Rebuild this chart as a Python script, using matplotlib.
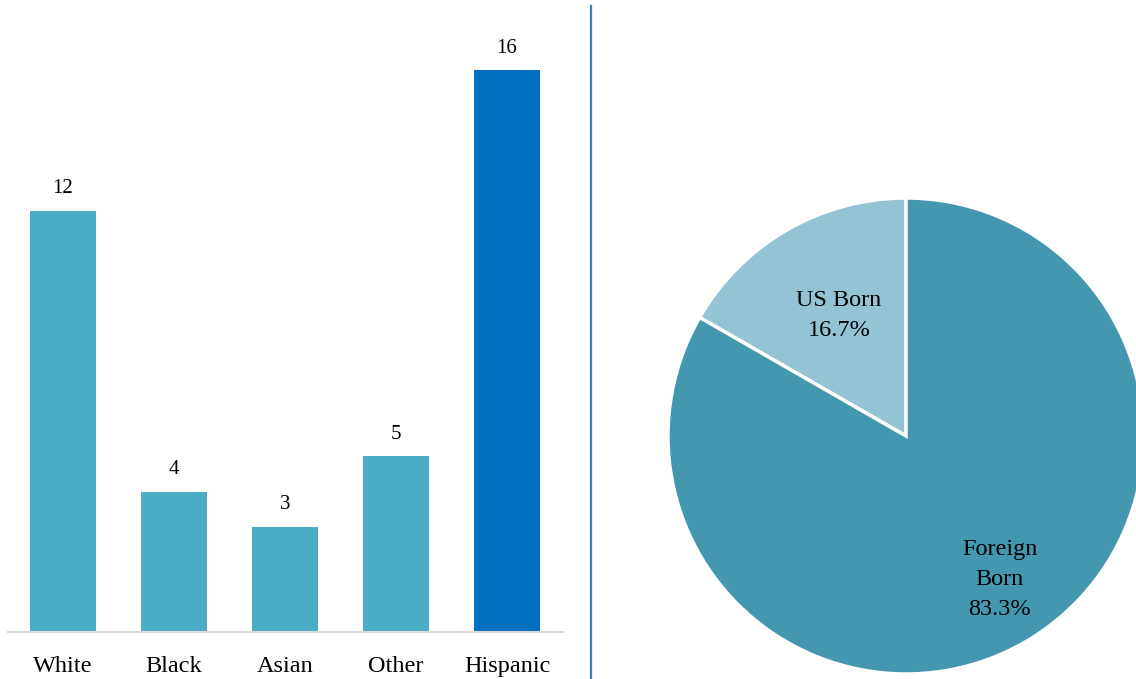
import numpy as np
import matplotlib
matplotlib.use("Agg")
import matplotlib.pyplot as plt
from matplotlib.lines import Line2D

# data
races = ["White", "Black", "Asian", "Other", "Hispanic"]
counts = [12, 4, 3, 5, 16]
bar_colors = ["#4bacc6", "#4bacc6", "#4bacc6", "#4bacc6", "#0070c0"]

birth_labels = ["US Born", "Foreign\nBorn"]
birth_share = [16.7, 83.3]
pie_colors = ["#93c3d5", "#4398b0"]

plt.rcParams["font.family"] = ["Liberation Serif", "DejaVu Serif"]

W, H = 1136, 679
fig = plt.figure(figsize=(W / 100, H / 100), dpi=100)

# bar chart
ax = fig.add_axes([7.5 / W, (H - 632) / H, 555 / W, 632 / H])
x = np.arange(len(races))
bars = ax.bar(x, counts, width=0.595, color=bar_colors)
for b, v in zip(bars, counts):
    ax.text(b.get_x() + b.get_width() / 2, v + 0.35, str(v),
            ha="center", va="bottom", fontsize=15)
ax.set_xlim(-0.5, len(races) - 0.5)
ax.set_ylim(0, 18)
ax.set_xticks(x)
ax.set_xticklabels(races, fontsize=17.5)
ax.tick_params(axis="x", length=0, pad=17)
ax.set_yticks([])
for s in ["top", "right", "left"]:
    ax.spines[s].set_visible(False)
ax.spines["bottom"].set_color("#d9d9d9")
ax.spines["bottom"].set_linewidth(1.5)

# divider
fig.add_artist(Line2D([591 / W, 591 / W], [0, 1 - 6 / H],
                      transform=fig.transFigure, color="#3f7cc0", lw=1.6))

# pie chart
cx, cy, r = 906, 436, 238
pax = fig.add_axes([(cx - r) / W, (H - cy - r) / H, 2 * r / W, 2 * r / H])
wedges, _ = pax.pie(birth_share, colors=pie_colors, startangle=90,
                    counterclock=True,
                    wedgeprops=dict(edgecolor="white", linewidth=2.5))
pax.set_aspect("equal")
pax.set_xlim(-1, 1)
pax.set_ylim(-1, 1)
label_r = [0.58, 0.72]
label_shift = [-1, 3]  # degrees off the wedge middle
for w, lab, val, lr, sh in zip(wedges, birth_labels, birth_share, label_r, label_shift):
    ang = np.deg2rad((w.theta1 + w.theta2) / 2 + sh)
    pax.text(lr * np.cos(ang), lr * np.sin(ang), f"{lab}\n{val:.1f}%",
             ha="center", va="center", fontsize=17.5, linespacing=1.55)

fig.savefig("out.png", dpi=100)
